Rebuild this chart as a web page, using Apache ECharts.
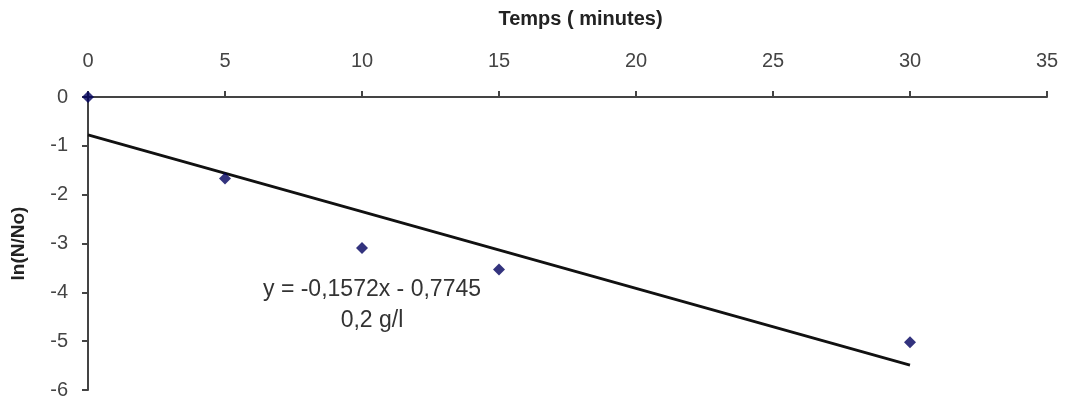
<!DOCTYPE html>
<html><head><meta charset="utf-8">
<script src="https://cdn.jsdelivr.net/npm/echarts@6/dist/echarts.min.js"></script>
<style>html,body{margin:0;padding:0;background:#fff}#c{width:1069px;height:407px}</style>
</head><body><div id="c"></div>
<script>
const times = [0, 5, 10, 15, 30];
const lnValues = [0, -1.67, -3.09, -3.53, -5.02];
const trendX = [0, 30];
const trendY = [-0.7745, -5.4905];
const xTicks = [0, 5, 10, 15, 20, 25, 30, 35];
const yTicks = [0, -1, -2, -3, -4, -5, -6];
const equationLines = ['y = -0,1572x - 0,7745', '0,2 g/l'];

const FONT = 'Liberation Sans, Arial, sans-serif';
const chart = echarts.init(document.getElementById('c'), null, {renderer: 'canvas'});
const labelFont = {fontFamily: FONT, fontSize: 20, color: '#444'};
chart.setOption({
  animation: false,
  backgroundColor: '#fff',
  grid: {left: 88, right: 22, top: 97, bottom: 17},
  xAxis: {
    type: 'value', position: 'top', min: 0, max: 35, interval: 5,
    name: 'Temps ( minutes)', nameLocation: 'middle', nameGap: 68,
    nameTextStyle: {fontFamily: FONT, fontSize: 20, fontWeight: 'bold', color: '#222', padding: [0, 0, 0, 26]},
    axisLine: {onZero: false, lineStyle: {color: '#444', width: 2}},
    axisTick: {show: true, length: 6, lineStyle: {color: '#444', width: 2}},
    axisLabel: Object.assign({margin: 26}, labelFont),
    splitLine: {show: false}
  },
  yAxis: {
    type: 'value', min: -6, max: 0, interval: 1,
    name: 'ln(N/No)', nameLocation: 'middle', nameGap: 60, nameRotate: 90,
    nameTextStyle: {fontFamily: FONT, fontSize: 19, fontWeight: 'bold', color: '#222'},
    axisLine: {show: true, onZero: false, lineStyle: {color: '#444', width: 2}},
    axisTick: {show: true, length: 6, lineStyle: {color: '#444', width: 2}},
    axisLabel: Object.assign({margin: 20}, labelFont),
    splitLine: {show: false}
  },
  series: [
    {
      type: 'line', data: trendX.map((x, i) => [x, trendY[i]]),
      symbol: 'none', lineStyle: {color: '#111', width: 2.8}, z: 2
    },
    {
      type: 'scatter', data: times.map((t, i) => [t, lnValues[i]]),
      symbol: 'diamond', symbolSize: 12, itemStyle: {color: '#00005e'}, z: 3
    }
  ],
  graphic: [
    {type: 'text', x: 372, y: 290, style: {text: equationLines[0], font: '23px ' + FONT, fill: '#333', textAlign: 'center', textVerticalAlign: 'middle'}},
    {type: 'text', x: 372, y: 321, style: {text: equationLines[1], font: '23px ' + FONT, fill: '#333', textAlign: 'center', textVerticalAlign: 'middle'}}
  ]
});
</script></body></html>
